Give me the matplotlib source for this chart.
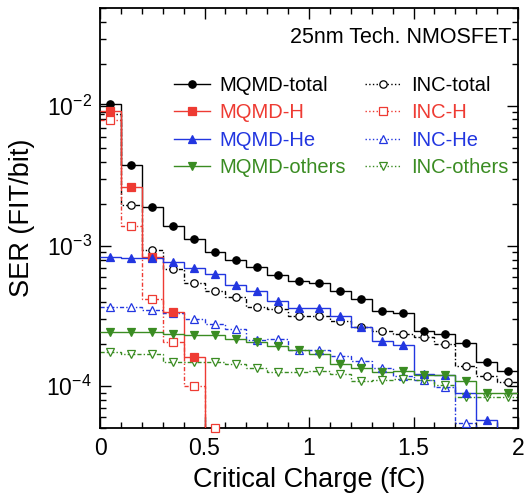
import numpy as np
import matplotlib
matplotlib.use("Agg")
import matplotlib.pyplot as plt
from matplotlib.lines import Line2D
from matplotlib.ticker import MultipleLocator, LogLocator, NullFormatter

plt.rcParams['font.family'] = ['Liberation Sans', 'DejaVu Sans']
plt.rcParams['mathtext.fontset'] = 'custom'
plt.rcParams['mathtext.rm'] = 'Liberation Sans'
plt.rcParams['mathtext.default'] = 'regular'

# bordes de las clases de carga critica (fC)
bordes = np.round(np.arange(0, 2.01, 0.1), 2)
centros = bordes[:-1] + 0.05

# SER (FIT/bit) por clase
mqmd_total = [1.04e-2, 3.81e-3, 1.91e-3, 1.39e-3, 1.12e-3, 9.0e-4, 7.94e-4, 7.1e-4, 6.2e-4, 5.65e-4,
              5.42e-4, 4.8e-4, 4.18e-4, 3.43e-4, 3.34e-4, 2.47e-4, 2.35e-4, 2.02e-4, 1.49e-4, 1.29e-4]
mqmd_h = [9.25e-3, 2.65e-3, 8.3e-4, 3.4e-4, 1.62e-4, 0, 0, 0, 0, 0,
          0, 0, 0, 0, 0, 0, 0, 0, 0, 0]
mqmd_he = [8.4e-4, 8.2e-4, 8.17e-4, 7.73e-4, 6.93e-4, 6.31e-4, 5.27e-4, 4.8e-4, 4.06e-4, 3.59e-4,
           3.59e-4, 3.16e-4, 2.63e-4, 2.11e-4, 1.96e-4, 1.22e-4, 1.2e-4, 8.87e-5, 5.72e-5, 0]
mqmd_otros = [2.44e-4, 2.44e-4, 2.44e-4, 2.35e-4, 2.31e-4, 2.31e-4, 2.16e-4, 2.06e-4, 1.93e-4, 1.81e-4,
              1.69e-4, 1.43e-4, 1.34e-4, 1.27e-4, 1.29e-4, 1.2e-4, 1.2e-4, 1.09e-4, 8.95e-5, 8.95e-5]
inc_total = [8.72e-3, 1.95e-3, 9.36e-4, 6.85e-4, 5.47e-4, 4.8e-4, 4.31e-4, 3.65e-4, 3.53e-4, 3.18e-4,
             3.18e-4, 2.9e-4, 2.65e-4, 2.48e-4, 2.34e-4, 2.23e-4, 2.0e-4, 1.39e-4, 1.18e-4, 1.07e-4]
inc_h = [7.94e-3, 1.4e-3, 4.22e-4, 2.07e-4, 1.0e-4, 5.0e-5, 0, 0, 0, 0,
         0, 0, 0, 0, 0, 0, 0, 0, 0, 0]
inc_he = [3.68e-4, 3.65e-4, 3.49e-4, 3.34e-4, 2.99e-4, 2.76e-4, 2.54e-4, 2.13e-4, 2.16e-4, 1.81e-4,
          1.81e-4, 1.64e-4, 1.52e-4, 1.34e-4, 1.18e-4, 1.1e-4, 9.9e-5, 5.47e-5, 0, 0]
inc_otros = [1.74e-4, 1.69e-4, 1.69e-4, 1.48e-4, 1.49e-4, 1.48e-4, 1.45e-4, 1.34e-4, 1.27e-4, 1.27e-4,
             1.29e-4, 1.22e-4, 1.09e-4, 1.11e-4, 1.13e-4, 1.11e-4, 1.02e-4, 8.4e-5, 8.4e-5, 8.4e-5]

negro, rojo, azul, verde = 'black', '#ee3b33', '#2236e0', '#3a8c22'
trazo_inc = (0, (3, 1.5, 1, 1.5))

series = [
    ('MQMD-total', mqmd_total, negro, 'o', True),
    ('MQMD-H', mqmd_h, rojo, 's', True),
    ('MQMD-He', mqmd_he, azul, '^', True),
    ('MQMD-others', mqmd_otros, verde, 'v', True),
    ('INC-total', inc_total, negro, 'o', False),
    ('INC-H', inc_h, rojo, 's', False),
    ('INC-He', inc_he, azul, '^', False),
    ('INC-others', inc_otros, verde, 'v', False),
]

fig = plt.figure(figsize=(5.25, 4.96), dpi=100)
ax = fig.add_axes([0.1905, 0.1365, 0.7962, 0.8474])
ax.set_yscale('log')

manijas = []
for nombre, vals, color, marca, lleno in series:
    vals = np.array(vals)
    ls = '-' if lleno else trazo_inc
    cara = color if lleno else 'white'
    z = 3 if lleno else 2
    ax.stairs(vals, bordes, baseline=None, color=color, lw=1.0, ls=ls, zorder=z)
    m = vals > 0
    ax.plot(centros[m], vals[m], ls='none', marker=marca, ms=5.3, mfc=cara, mec=color,
            mew=0.9, clip_on=False, zorder=z + 1)
    manijas.append(Line2D([], [], color=color, lw=1.0, ls='-' if lleno else ':',
                          marker=marca, ms=5.3, mfc=cara, mec=color, mew=0.9, label=nombre))

ax.set_xlim(0, 2)
ax.set_ylim(5e-5, 5e-2)
ax.xaxis.set_major_locator(MultipleLocator(0.5))
ax.xaxis.set_minor_locator(MultipleLocator(0.1))
ax.xaxis.set_major_formatter(plt.FuncFormatter(lambda v, p: f'{v:g}'))
ax.yaxis.set_major_locator(LogLocator(base=10, numticks=10))
ax.yaxis.set_minor_locator(LogLocator(base=10, subs=np.arange(2, 10), numticks=20))
ax.yaxis.set_minor_formatter(NullFormatter())
ax.tick_params(which='both', direction='in', top=True, right=True, labelsize=16.5, width=1.0)
ax.tick_params(which='major', length=8, pad=6)
ax.tick_params(which='minor', length=4.5)
for s in ax.spines.values():
    s.set_linewidth(1.3)

ax.set_xlabel('Critical Charge (fC)', fontsize=19.5, labelpad=5)
ax.set_ylabel('SER (FIT/bit)', fontsize=19.5, labelpad=8)

ax.text(0.985, 0.955, '25nm Tech. NMOSFET', transform=ax.transAxes, ha='right', va='top',
        fontsize=15.5)

ley = ax.legend(handles=manijas, ncol=2, loc='upper right', bbox_to_anchor=(1.01, 0.872),
                frameon=False, fontsize=14.5, handlelength=1.75, handletextpad=0.5,
                columnspacing=0.95, labelspacing=0.42, labelcolor='linecolor', borderpad=0.2)

fig.savefig('out.png', dpi=100)
